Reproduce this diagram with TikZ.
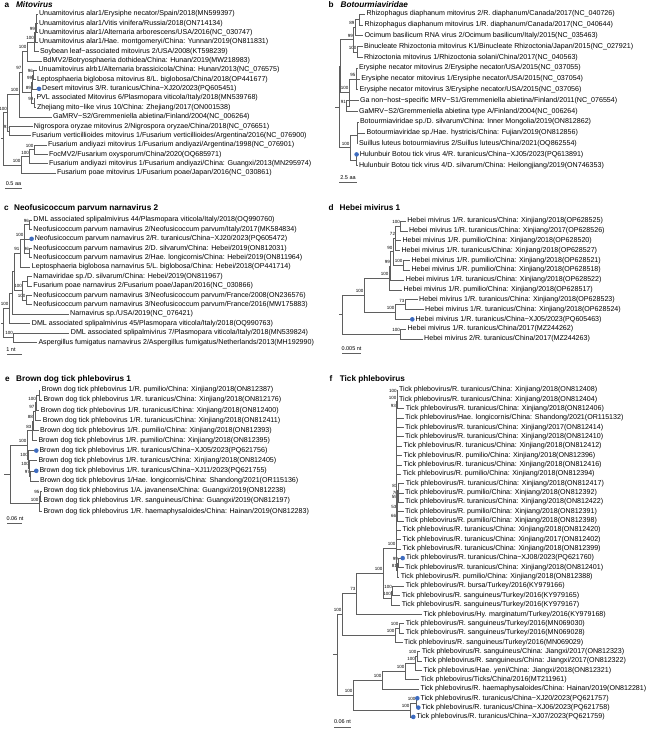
\documentclass[tikz,border=0pt]{standalone}
\usepackage{fontspec}
\setmainfont{Liberation Sans}
\usetikzlibrary{calc,positioning}

\definecolor{treegray}{RGB}{95,95,95}
\definecolor{tipblue}{RGB}{62,108,192}

\newcommand\leaves[4]{\foreach \nn/\xx/\lab in {#4} {\node[leaf] (#1\nn) at (\xx,{#2+#3*(\nn-1)}) {\lab};}}
\newcommand\nd[5]{\coordinate (ndm) at ($(#3)!.5!(#4)$);
  \coordinate (#1) at (ndm -| #2,0);
  \node[boot] (#1b) at (#1) {#5};}
\newcommand\kids[2]{\foreach \ch in {#2} {\draw[branch] (#1) |- (\ch);}}
\newcommand\tipdot[1]{\fill[tipblue] ($(#1.west)+(-1.7,0)$) circle (2.3pt);}

\begin{document}
\begin{tikzpicture}[x=1pt, y=-1pt,
    branch/.style={draw=treegray, line width=0.45pt},
    leaf/.style={anchor=west, inner xsep=1.3pt, inner ysep=0pt, font=\fontsize{7.1}{8.5}\selectfont},
    boot/.style={anchor=south east, inner sep=0.3pt, yshift=2pt, font=\fontsize{4.5}{5}\selectfont},
    ptag/.style={inner sep=0pt, anchor=base west, font=\fontsize{8.2}{9.5}\selectfont\bfseries},
    ptitle/.style={inner sep=0pt, font=\fontsize{8.2}{9.5}\selectfont\bfseries},
    scalelbl/.style={inner sep=0pt, font=\fontsize{5.5}{6.5}\selectfont}]

  \useasboundingbox (0,0) rectangle (649,729);

  % a
  \node[ptag] (aTg) at (4.5,7.5) {a};
  \node[ptitle, base right=6.5pt of aTg] (aTt) {\itshape Mitovirus};
  \leaves{a}{14}{9.35}{
    1/37.5/{Unuamitovirus alar1/Erysiphe necator/Spain/2018(MN599397)},
    2/37.5/{Unuamitovirus alar1/Vitis vinifera/Russia/2018(ON714134)},
    3/37.5/{Unuamitovirus alar1/Alternaria arborescens/USA/2016(NC\_030747)},
    4/37.5/{Unuamitovirus alar1/Hae. montgomeryi/China: Yunnan/2019(ON811831)},
    5/38.5/{Soybean leaf−associated mitovirus 2/USA/2008(KT598239)},
    6/41.5/{BdMV2/Botryosphaeria dothidea/China: Hunan/2019(MW218983)},
    7/37/{Unuamitovirus alrb1/Alternaria brassicicola/China: Hunan/2013(NC\_076575)},
    8/35.5/{Leptosphaeria biglobosa mitovirus 8/L. biglobosa/China/2018(OP441677)},
    9/40.7/{Desert mitovirus 3/R. turanicus/China−XJ20/2023(PQ605451)},
    10/35/{PVL associated Mitovirus 6/Plasmopara viticola/Italy/2018(MN539768)},
    11/35.5/{Zhejiang mito−like virus 10/China: Zhejiang/2017(ON001538)},
    12/51.5/{GaMRV−S2/Gremmeniella abietina/Finland/2004(NC\_006264)},
    13/32.5/{Nigrospora oryzae mitovirus 2/Nigrospora oryzae/China/2018(NC\_076651)},
    14/30.5/{Fusarium verticillioides mitovirus 1/Fusarium verticillioides/Argentina/2016(NC\_076900)},
    15/46.5/{Fusarium andiyazi mitovirus 1/Fusarium andiyazi/Argentina/1998(NC\_076901)},
    16/47.5/{FocMV2/Fusarium oxysporum/China/2020(OQ685971)},
    17/47.5/{Fusarium andiyazi mitovirus 1/Fusarium andiyazi/China: Guangxi/2013(MN295974)},
    18/55.5/{Fusarium poae mitovirus 1/Fusarium poae/Japan/2016(NC\_030861)}}
  \nd{aU1}{36}{a1.west}{a3.west}{}
  \nd{aU2}{35.3}{aU1}{a4.west}{99}
  \nd{aU3}{34.5}{aU2}{a5.west}{100}
  \nd{aU4}{27}{aU3}{a6.west}{100}
  \nd{aV1}{33.5}{a7.west}{a8.west}{96}
  \nd{aV2}{32.7}{aV1}{a9.west}{99}
  \nd{aW1}{34}{a10.west}{a11.west}{99}
  \nd{aV3}{31.5}{aV2}{aW1}{89}
  \nd{aV4}{22}{aU4}{aV3}{97}
  \nd{aX1}{19}{aV4}{a12.west}{100}
  \nd{aB}{9.5}{a13.west}{a14.west}{91}
  \nd{aY}{7.5}{aX1}{aB}{100}
  \nd{aC1}{34}{a15.west}{a16.west}{100}
  \nd{aC2}{29.5}{aC1}{a17.west}{100}
  \nd{aC3}{21}{aC2}{a18.west}{100}
  \nd{aR}{3}{aY}{aC3}{}
  \kids{aU1}{a1.west,a2.west,a3.west}
  \kids{aU2}{aU1,a4.west}
  \kids{aU3}{aU2,a5.west}
  \kids{aU4}{aU3,a6.west}
  \kids{aV1}{a7.west,a8.west}
  \kids{aV2}{aV1,a9.west}
  \kids{aW1}{a10.west,a11.west}
  \kids{aV3}{aV2,aW1}
  \kids{aV4}{aU4,aV3}
  \kids{aX1}{aV4,a12.west}
  \kids{aB}{a13.west,a14.west}
  \kids{aY}{aX1,aB}
  \kids{aC1}{a15.west,a16.west}
  \kids{aC2}{aC1,a17.west}
  \kids{aC3}{aC2,a18.west}
  \kids{aR}{aY,aC3}
  \draw[branch] (aR) -- +(-2.5,0);
  \tipdot{a9}
  \node[scalelbl] (aScl) at (13.5,184) {0.5 aa};
  \draw[branch] (5,188.5) -- (22,188.5);

  % b
  \node[ptag] (bTg) at (328.5,7.5) {b};
  \node[ptitle, base right=6.5pt of bTg] (bTt) {\itshape Botourmiaviridae};
  \leaves{b}{14}{10.8}{
    1/365/{Rhizophagus diaphanum mitovirus 2/R. diaphanum/Canada/2017(NC\_040726)},
    2/363.2/{Rhizophagus diaphanum mitovirus 1/R. diaphanum/Canada/2017(NC\_040644)},
    3/363.2/{Ocimum basilicum RNA virus 2/Ocimum basilicum/Italy/2015(NC\_035463)},
    4/362.5/{Binucleate Rhizoctonia mitovirus K1/Binucleate Rhizoctonia/Japan/2015(NC\_027921)},
    5/362.5/{Rhizoctonia mitovirus 1/Rhizoctonia solani/China/2017(NC\_040563)},
    6/357.5/{Erysiphe necator mitovirus 2/Erysiphe necator/USA/2015(NC\_037055)},
    7/359.8/{Erysiphe necator mitovirus 1/Erysiphe necator/USA/2015(NC\_037054)},
    8/358.2/{Erysiphe necator mitovirus 3/Erysiphe necator/USA/2015(NC\_037056)},
    9/358.5/{Ga non−host−specific MRV−S1/Gremmeniella abietina/Finland/2011(NC\_076554)},
    10/357.5/{GaMRV−S2/Gremmeniella abietina type A/Finland/2004(NC\_006264)},
    11/358.5/{Botourmiaviridae sp./D. silvarum/China: Inner Mongolia/2019(ON812862)},
    12/365.2/{Botourmiaviridae sp./Hae. hystricis/China: Fujian/2019(ON812856)},
    13/357.5/{Suillus luteus botourmiavirus 2/Suillus luteus/China/2021(OQ862554)},
    14/358.3/{Hulunbuir Botou tick virus 4/R. turanicus/China−XJ05/2023(PQ613891)},
    15/357.5/{Hulunbuir Botou tick virus 4/D. silvarum/China: Heilongjiang/2019(ON746353)}}
  \nd{bP1}{359.5}{b1.west}{b2.west}{}
  \nd{bP2}{355}{bP1}{b3.west}{89}
  \nd{bP3}{357}{b4.west}{b5.west}{100}
  \nd{bP4}{353.5}{bP2}{bP3}{99}
  \nd{bE}{356}{b6.west}{b8.west}{95}
  \nd{bG}{346.5}{b9.west}{b10.west}{91}
  \nd{bF}{349}{bE}{bG}{100}
  \nd{bI}{340.5}{bP4}{bF}{}
  \nd{bH1}{357.3}{b11.west}{b12.west}{}
  \nd{bH}{356.8}{bH1}{b13.west}{}
  \nd{bK}{356.3}{b14.west}{b15.west}{}
  \nd{bII}{350}{bH}{bK}{100}
  \nd{bR}{339}{bI}{bII}{}
  \kids{bP1}{b1.west,b2.west}
  \kids{bP2}{bP1,b3.west}
  \kids{bP3}{b4.west,b5.west}
  \kids{bP4}{bP2,bP3}
  \kids{bE}{b6.west,b7.west,b8.west}
  \kids{bG}{b9.west,b10.west}
  \kids{bF}{bE,bG}
  \kids{bI}{bP4,bF}
  \kids{bH1}{b11.west,b12.west}
  \kids{bH}{bH1,b13.west}
  \kids{bK}{b14.west,b15.west}
  \kids{bII}{bH,bK}
  \kids{bR}{bI,bII}
  \draw[branch] (bR) -- +(-4.5,0);
  \tipdot{b14}
  \node[scalelbl] (bScl) at (348,178) {2.5 aa};
  \draw[branch] (339,182.5) -- (357,182.5);

  % c
  \node[ptag] (cTg) at (4,210) {c};
  \node[ptitle, base right=5pt of cTg] (cTt) {Neofusicoccum parvum narnavirus 2};
  \leaves{c}{220}{9.4}{
    1/32/{DML associated splipalmivirus 44/Plasmopara viticola/Italy/2018(OQ990760)},
    2/32/{Neofusicoccum parvum narnavirus 2/Neofusicoccum parvum/Italy/2017(MK584834)},
    3/33.3/{Neofusicoccum parvum narnavirus 2/R. turanicus/China−XJ20/2023(PQ605472)},
    4/32/{Neofusicoccum parvum narnavirus 2/D. silvarum/China: Hebei/2019(ON812031)},
    5/32/{Neofusicoccum parvum narnavirus 2/Hae. longicornis/China: Hebei/2019(ON811964)},
    6/30.4/{Leptosphaeria biglobosa narnavirus 5/L. biglobosa/China: Hebei/2018(OP441714)},
    7/32/{Narnaviridae sp./D. silvarum/China: Hebei/2019(ON811967)},
    8/32/{Fusarium poae narnavirus 2/Fusarium poae/Japan/2016(NC\_030866)},
    9/32/{Neofusicoccum parvum narnavirus 3/Neofusicoccum parvum/France/2008(ON236576)},
    10/32/{Neofusicoccum parvum narnavirus 3/Neofusicoccum parvum/France/2016(MW175883)},
    11/68.7/{Narnavirus sp./USA/2019(NC\_076421)},
    12/30.4/{DML associated splipalmivirus 45/Plasmopara viticola/Italy/2018(OQ990763)},
    13/69.4/{DML associated splipalmivirus 7/Plasmopara viticola/Italy/2018(MN539824)},
    14/37/{Aspergillus fumigatus narnavirus 2/Aspergillus fumigatus/Netherlands/2013(MH192990)}}
  \nd{cA1}{29.5}{c1.west}{c2.west}{96}
  \nd{cA3}{29.5}{c4.west}{c5.west}{96}
  \nd{cN}{24}{cA1}{cA3}{100}
  \nd{cL}{20}{cN}{c6.west}{91}
  \nd{cB1}{27}{c7.west}{c8.west}{}
  \nd{cB2}{26}{c9.west}{c10.west}{100}
  \nd{cF}{22.5}{cB1}{cB2}{100}
  \nd{cLF}{14.5}{cL}{cF}{}
  \nd{cM}{12}{cLF}{c11.west}{}
  \nd{cM2}{9}{cM}{c12.west}{100}
  \nd{cD}{13.5}{c13.west}{c14.west}{100}
  \nd{cR}{3}{cM2}{cD}{}
  \kids{cA1}{c1.west,c2.west}
  \kids{cA3}{c4.west,c5.west}
  \kids{cN}{cA1,c3.west,cA3}
  \kids{cL}{cN,c6.west}
  \kids{cB1}{c7.west,c8.west}
  \kids{cB2}{c9.west,c10.west}
  \kids{cF}{cB1,cB2}
  \kids{cLF}{cL,cF}
  \kids{cM}{cLF,c11.west}
  \kids{cM2}{cM,c12.west}
  \kids{cD}{c13.west,c14.west}
  \kids{cR}{cM2,cD}
  \draw[branch] (cR) -- +(-2.5,0);
  \tipdot{c3}
  \node[scalelbl] (cScl) at (11,350) {1 nt};
  \draw[branch] (7,354.5) -- (22,354.5);

  % d
  \node[ptag] (dTg) at (328.5,210) {d};
  \node[ptitle, base right=5.5pt of dTg] (dTt) {Hebei mivirus 1};
  \leaves{d}{221}{9.83}{
    1/405.8/{Hebei mivirus 1/R. turanicus/China: Xinjiang/2018(OP628525)},
    2/407.5/{Hebei mivirus 1/R. turanicus/China: Xinjiang/2017(OP628526)},
    3/401/{Hebei mivirus 1/R. pumilio/China: Xinjiang/2018(OP628520)},
    4/400/{Hebei mivirus 1/R. turanicus/China: Xinjiang/2018(OP628527)},
    5/410/{Hebei mivirus 1/R. pumilio/China: Xinjiang/2018(OP628521)},
    6/410/{Hebei mivirus 1/R. pumilio/China: Xinjiang/2018(OP628518)},
    7/404.4/{Hebei mivirus 1/R. turanicus/China: Xinjiang/2018(OP628522)},
    8/402/{Hebei mivirus 1/R. pumilio/China: Xinjiang/2018(OP628517)},
    9/417.7/{Hebei mivirus 1/R. turanicus/China: Xinjiang/2018(OP628523)},
    10/423.7/{Hebei mivirus 1/R. turanicus/China: Xinjiang/2018(OP628524)},
    11/414/{Hebei mivirus 1/R. turanicus/China−XJ05/2023(PQ605463)},
    12/406/{Hebei mivirus 1/R. turanicus/China/2017(MZ244262)},
    13/422.7/{Hebei mivirus 2/R. turanicus/China/2017(MZ244263)}}
  \nd{dU1}{400.5}{d1.west}{d2.west}{100}
  \nd{dU2}{395.5}{dU1}{d4.west}{72}
  \nd{dU4}{403}{d5.west}{d6.west}{100}
  \nd{dU3}{393}{dU2}{dU4}{90}
  \nd{dU6}{390.5}{dU3}{d7.west}{99}
  \nd{dU7}{389}{dU6}{d8.west}{100}
  \nd{dL1}{405}{d9.west}{d10.west}{73}
  \nd{dL2}{395}{dL1}{d11.west}{100}
  \nd{dM}{364}{dU7}{dL2}{100}
  \nd{dO}{400.5}{d12.west}{d13.west}{100}
  \nd{dR}{342}{dM}{dO}{}
  \kids{dU1}{d1.west,d2.west}
  \kids{dU2}{dU1,d3.west,d4.west}
  \kids{dU4}{d5.west,d6.west}
  \kids{dU3}{dU2,dU4}
  \kids{dU6}{dU3,d7.west}
  \kids{dU7}{dU6,d8.west}
  \kids{dL1}{d9.west,d10.west}
  \kids{dL2}{dL1,d11.west}
  \kids{dM}{dU7,dL2}
  \kids{dO}{d12.west,d13.west}
  \kids{dR}{dM,dO}
  \draw[branch] (dR) -- +(-3,0);
  \tipdot{d11}
  \node[scalelbl] (dScl) at (351.5,349) {0.005 nt};
  \draw[branch] (342,353.5) -- (361,353.5);

  % e
  \node[ptag] (eTg) at (5,381.5) {e};
  \node[ptitle, base right=6pt of eTg] (eTt) {Brown dog tick phlebovirus 1};
  \leaves{e}{390}{10.1}{
    1/40.3/{Brown dog tick phlebovirus 1/R. pumilio/China: Xinjiang/2018(ON812387)},
    2/42/{Brown dog tick phlebovirus 1/R. turanicus/China: Xinjiang/2018(ON812176)},
    3/39.4/{Brown dog tick phlebovirus 1/R. turanicus/China: Xinjiang/2018(ON812400)},
    4/41.4/{Brown dog tick phlebovirus 1/R. turanicus/China: Xinjiang/2018(ON812411)},
    5/38.7/{Brown dog tick phlebovirus 1/R. pumilio/China: Xinjiang/2018(ON812393)},
    6/37/{Brown dog tick phlebovirus 1/R. pumilio/China: Xinjiang/2018(ON812395)},
    7/38/{Brown dog tick phlebovirus 1/R. turanicus/China−XJ05/2023(PQ621756)},
    8/37/{Brown dog tick phlebovirus 1/R. turanicus/China: Xinjiang/2018(ON812405)},
    9/38/{Brown dog tick phlebovirus 1/R. turanicus/China−XJ11/2023(PQ621755)},
    10/38.7/{Brown dog tick phlebovirus 1/Hae. longicornis/China: Shandong/2021(OR115136)},
    11/42/{Brown dog tick phlebovirus 1/A. javanense/China: Guangxi/2019(ON812238)},
    12/42/{Brown dog tick phlebovirus 1/R. sanguineus/China: Guangxi/2019(ON812197)},
    13/42/{Brown dog tick phlebovirus 1/R. haemaphysaloides/China: Hainan/2019(ON812283)}}
  \nd{eA1}{39}{e1.west}{e2.west}{}
  \nd{eA2}{36.5}{eA1}{e3.west}{100}
  \nd{eA3}{35}{eA2}{e4.west}{97}
  \nd{eA4}{33.5}{eA3}{e5.west}{88}
  \nd{eA5}{32}{eA4}{e6.west}{83}
  \nd{eB1}{30.5}{e9.west}{e10.west}{97}
  \nd{eB2}{29.3}{e8.west}{eB1}{100}
  \nd{eB3}{28.3}{e7.west}{eB2}{100}
  \nd{eB4}{27}{eA5}{eB3}{100}
  \nd{eC1}{40}{e11.west}{e12.west}{95}
  \nd{eC2}{39}{eC1}{e13.west}{100}
  \nd{eR}{10}{eB4}{eC2}{}
  \kids{eA1}{e1.west,e2.west}
  \kids{eA2}{eA1,e3.west}
  \kids{eA3}{eA2,e4.west}
  \kids{eA4}{eA3,e5.west}
  \kids{eA5}{eA4,e6.west}
  \kids{eB1}{e9.west,e10.west}
  \kids{eB2}{e8.west,eB1}
  \kids{eB3}{e7.west,eB2}
  \kids{eB4}{eA5,eB3}
  \kids{eC1}{e11.west,e12.west}
  \kids{eC2}{eC1,e13.west}
  \kids{eR}{eB4,eC2}
  \draw[branch] (eR) -- +(-6.5,0);
  \tipdot{e7}
  \tipdot{e9}
  \node[scalelbl] (eScl) at (15,519) {0.06 nt};
  \draw[branch] (7,523.5) -- (22,523.5);

  % f
  \node[ptag] (fTg) at (329.5,381.5) {f};
  \node[ptitle, base right=7pt of fTg] (fTt) {Tick phlebovirus};
  \leaves{f}{390}{9.34}{
    1/397.6/{Tick phlebovirus/R. turanicus/China: Xinjiang/2018(ON812408)},
    2/397.6/{Tick phlebovirus/R. turanicus/China: Xinjiang/2018(ON812404)},
    3/404.3/{Tick phlebovirus/R. turanicus/China: Xinjiang/2018(ON812406)},
    4/403.6/{Tick phlebovirus/Hae. longicornis/China: Shandong/2021(OR115132)},
    5/403.6/{Tick phlebovirus/R. turanicus/China: Xinjiang/2017(ON812414)},
    6/403.6/{Tick phlebovirus/R. turanicus/China: Xinjiang/2018(ON812410)},
    7/402/{Tick phlebovirus/R. turanicus/China: Xinjiang/2018(ON812412)},
    8/402/{Tick phlebovirus/R. pumilio/China: Xinjiang/2018(ON812396)},
    9/402/{Tick phlebovirus/R. turanicus/China: Xinjiang/2018(ON812416)},
    10/401.3/{Tick phlebovirus/R. pumilio/China: Xinjiang/2018(ON812394)},
    11/404.3/{Tick phlebovirus/R. turanicus/China: Xinjiang/2018(ON812417)},
    12/403.6/{Tick phlebovirus/R. pumilio/China: Xinjiang/2018(ON812392)},
    13/403.6/{Tick phlebovirus/R. turanicus/China: Xinjiang/2018(ON812422)},
    14/403.6/{Tick phlebovirus/R. pumilio/China: Xinjiang/2018(ON812391)},
    15/403.6/{Tick phlebovirus/R. pumilio/China: Xinjiang/2018(ON812398)},
    16/401/{Tick phlebovirus/R. turanicus/China: Xinjiang/2018(ON812420)},
    17/401/{Tick phlebovirus/R. turanicus/China: Xinjiang/2017(ON812402)},
    18/401/{Tick phlebovirus/R. turanicus/China: Xinjiang/2018(ON812399)},
    19/404.4/{Tick phlebovirus/R. turanicus/China−XJ08/2023(PQ621760)},
    20/403.6/{Tick phlebovirus/R. turanicus/China: Xinjiang/2018(ON812401)},
    21/399.3/{Tick phlebovirus/R. pumilio/China: Xinjiang/2018(ON812388)},
    22/404.3/{Tick phlebovirus/R. bursa/Turkey/2016(KY979166)},
    23/400.3/{Tick phlebovirus/R. sanguineus/Turkey/2016(KY979165)},
    24/400.3/{Tick phlebovirus/R. sanguineus/Turkey/2016(KY979167)},
    25/422/{Tick phlebovirus/Hy. marginatum/Turkey/2016(KY979168)},
    26/404.3/{Tick phlebovirus/R. sanguineus/Turkey/2016(MN069030)},
    27/404.3/{Tick phlebovirus/R. sanguineus/Turkey/2016(MN069028)},
    28/402.7/{Tick phlebovirus/R. sanguineus/Turkey/2016(MN069029)},
    29/420.3/{Tick phlebovirus/R. sanguineus/China: Jiangxi/2017(ON812323)},
    30/422/{Tick phlebovirus/R. sanguineus/China: Jiangxi/2017(ON812322)},
    31/422/{Tick phlebovirus/Hae. yeni/China: Jiangxi/2018(ON812321)},
    32/419.4/{Tick phlebovirus/Ticks/China/2016(MT211961)},
    33/419/{Tick phlebovirus/R. haemaphysaloides/China: Hainan/2019(ON812281)},
    34/419/{Tick phlebovirus/R. turanicus/China−XJ20/2023(PQ621757)},
    35/420/{Tick phlebovirus/R. turanicus/China−XJ06/2023(PQ621758)},
    36/415/{Tick phlebovirus/R. turanicus/China−XJ07/2023(PQ621759)}}
  \nd{fC1}{397.2}{f1.west}{f2.west}{100}
  \nd{fC2}{396.8}{fC1}{f3.west}{100}
  \nd{fC3}{396.4}{fC2}{f4.west}{93}
  \nd{fE1}{398.5}{f12.west}{f13.west}{76}
  \nd{fE2}{398}{f11.west}{fE1}{83}
  \nd{fE3}{397.5}{fE2}{f14.west}{55}
  \nd{fE4}{397}{fE3}{f15.west}{53}
  \nd{fE5}{396.6}{fE4}{f16.west}{66}
  \nd{fD1}{398.5}{f19.west}{f20.west}{99}
  \nd{fD2}{397.5}{fD1}{f21.west}{81}
  \coordinate (fCC) at (396,548);
  \node[boot] (fCCb) at (fCC) {100};
  \nd{fT1}{392.5}{f22.west}{f23.west}{100}
  \nd{fT}{391.5}{fT1}{f24.west}{100}
  \nd{fX}{383}{fCC}{fT}{100}
  \nd{fX2}{356}{fX}{f25.west}{73}
  \nd{fM1}{399}{f26.west}{f27.west}{100}
  \nd{fM}{395}{fM1}{f28.west}{100}
  \nd{fY}{342}{fX2}{fM}{100}
  \nd{fZ1}{417}{f29.west}{f30.west}{100}
  \nd{fZ2}{415.5}{fZ1}{f31.west}{100}
  \nd{fZ3}{405}{fZ2}{f32.west}{100}
  \nd{fZ4}{382}{fZ3}{f33.west}{100}
  \nd{fP1}{416}{f34.west}{f35.west}{100}
  \nd{fP}{410}{fP1}{f36.west}{100}
  \nd{fZ}{353}{fZ4}{fP}{100}
  \nd{fR}{337.5}{fY}{fZ}{}
  \kids{fC1}{f1.west,f2.west}
  \kids{fC2}{fC1,f3.west}
  \kids{fC3}{fC2,f4.west}
  \kids{fE1}{f12.west,f13.west}
  \kids{fE2}{f11.west,fE1}
  \kids{fE3}{fE2,f14.west}
  \kids{fE4}{fE3,f15.west}
  \kids{fE5}{fE4,f16.west}
  \kids{fD1}{f19.west,f20.west}
  \kids{fD2}{fD1,f21.west}
  \kids{fCC}{fC3,f5.west,f6.west,f7.west,f8.west,f9.west,f10.west,fE5,f17.west,f18.west,fD2}
  \kids{fT1}{f22.west,f23.west}
  \kids{fT}{fT1,f24.west}
  \kids{fX}{fCC,fT}
  \kids{fX2}{fX,f25.west}
  \kids{fM1}{f26.west,f27.west}
  \kids{fM}{fM1,f28.west}
  \kids{fY}{fX2,fM}
  \kids{fZ1}{f29.west,f30.west}
  \kids{fZ2}{fZ1,f31.west}
  \kids{fZ3}{fZ2,f32.west}
  \kids{fZ4}{fZ3,f33.west}
  \kids{fP1}{f34.west,f35.west}
  \kids{fP}{fP1,f36.west}
  \kids{fZ}{fZ4,fP}
  \kids{fR}{fY,fZ}
  \draw[branch] (fR) -- +(-4.5,0);
  \tipdot{f19}
  \tipdot{f34}
  \tipdot{f35}
  \tipdot{f36}
  \node[scalelbl] (fScl) at (342.5,722) {0.06 nt};
  \draw[branch] (334,727) -- (351,727);
\end{tikzpicture}
\end{document}
